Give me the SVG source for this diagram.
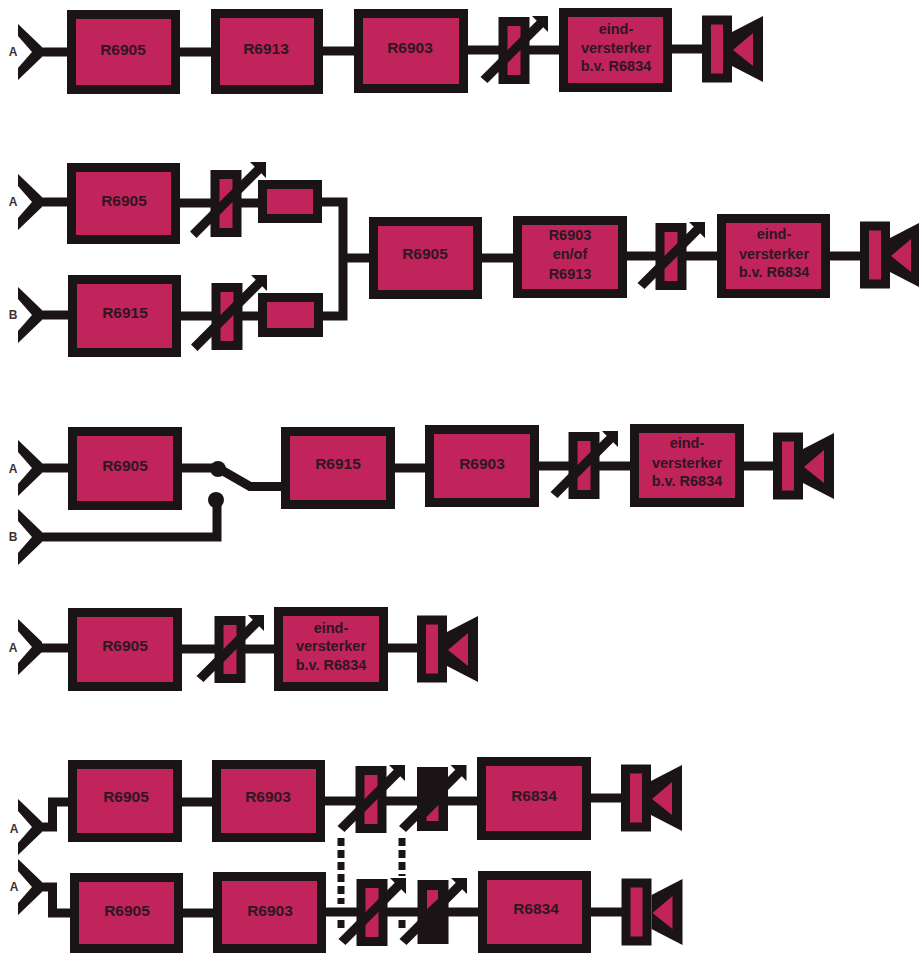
<svg xmlns="http://www.w3.org/2000/svg" width="919" height="953" viewBox="0 0 919 953">
<style>
.box{fill:#c0245a;stroke:#1b1417;stroke-width:9}
.k{fill:#1b1417}
.p{fill:#c0245a}
.w{stroke:#1b1417;stroke-width:9;fill:none}
text{font-family:"Liberation Sans",Arial,sans-serif;font-weight:700;text-anchor:middle;fill:#2e1722}
.t{font-size:15.5px}
.a{font-size:14.5px}
.l{font-size:12px;fill:#3a3034}
.d{stroke:#1b1417;stroke-width:7;fill:none;stroke-dasharray:8 4}
</style>
<defs>
<polygon id="ant" class="k" points="18,-28 42,-5 42,5 18,28 18,16 32,0 18,-16"/>
<polygon id="slash" class="k" points="-33.500,27 22.750,-29.250 18,-34 34,-34 34,-18 29.250,-22.750 -26.500,33"/>
<polygon id="slashlong" class="k" points="-36,28.500 28.750,-36.250 24,-41 40,-41 40,-25 35.250,-29.750 -29.500,35"/>
<rect id="potbody" class="box" x="-11" y="-28.500" width="22" height="58"/>
<rect id="potblack" class="k" x="-15.500" y="-32" width="31" height="64"/>
<g id="spk"><rect class="box" x="-10.500" y="-29" width="21" height="58"/><polygon class="k" points="15,-17 46,-33 46,33 15,17"/><polygon class="p" points="16,1 36,-16 36,17"/></g>
</defs>
<g id="connectors">
<path class="w" d="M40,52H70M178,52H215M320,51H358M465,50H562M669,49H705"/>
<path class="w" d="M40,202H70M178,203H262M40,315H70M178,316H262M318,202H343V316H319M345,258H373M480,258H516M624,256H720M828,256H864"/>
<path class="w" d="M40,468H70M180,468H218L250,486.500H285M40,537H217V500M392,468H428M536,466H634M741,466H777"/>
<path class="w" d="M40,648H71M180,649H277M385,648H421"/>
<path class="w" d="M40,827H52.500V802H71M40,887H52.500V913H73M180,802H215M322,801H480M588,798H625M180,913H216M323,912H481M588,912H626"/>
<path class="d" d="M341,838V904M341,920V929M402,838V876M402,920V929"/>
</g>
<g id="row1">
<g id="ant-a1"><use href="#ant" transform="translate(0,52)"/><text class="l" x="13" y="56">A</text></g>
<g id="n-r6905-1"><rect class="box" x="71.500" y="14.500" width="104" height="75"/><text class="t" x="123" y="55">R6905</text></g>
<g id="n-r6913-1"><rect class="box" x="215.500" y="13.500" width="103" height="76"/><text class="t" x="266" y="54">R6913</text></g>
<g id="n-r6903-1"><rect class="box" x="358.500" y="13.500" width="105" height="75"/><text class="t" x="410" y="53">R6903</text></g>
<g id="n-pot-1" transform="translate(514,50)"><use href="#potbody"/><use href="#slash"/></g>
<g id="n-amp-1"><rect class="box" x="563.500" y="12.500" width="104" height="75"/><text class="a" x="616" y="34">eind-</text><text class="a" x="616" y="53">versterker</text><text class="a" x="616" y="71">b.v. R6834</text></g>
<g id="n-spk-1" transform="translate(717,49)"><use href="#spk"/></g>
</g>
<g id="row2">
<g id="ant-a2"><use href="#ant" transform="translate(0,202)"/><text class="l" x="13" y="206">A</text></g>
<g id="ant-b2"><use href="#ant" transform="translate(0,315)"/><text class="l" x="13" y="319">B</text></g>
<g id="n-r6905-2"><rect class="box" x="71.500" y="167.500" width="104" height="72"/><text class="t" x="124" y="206">R6905</text></g>
<g id="n-r6915-2"><rect class="box" x="72.500" y="279.500" width="104" height="73"/><text class="t" x="125" y="318">R6915</text></g>
<g id="n-pot-2a" transform="translate(226,203)"><use href="#potbody"/><use href="#slashlong"/></g>
<g id="n-pot-2b" transform="translate(227,316)"><use href="#potbody"/><use href="#slashlong"/></g>
<g id="n-small-a"><rect class="box" x="262.500" y="184.500" width="55" height="34"/></g>
<g id="n-small-b"><rect class="box" x="262.500" y="297.500" width="56" height="35"/></g>
<g id="n-r6905-2m"><rect class="box" x="373.500" y="221.500" width="104" height="73"/><text class="t" x="425" y="259">R6905</text></g>
<g id="n-r6903-2"><rect class="box" x="517.500" y="220.500" width="105" height="73"/><text class="a" x="570" y="240">R6903</text><text class="a" x="570" y="259">en/of</text><text class="a" x="570" y="279">R6913</text></g>
<g id="n-pot-2c" transform="translate(671,256)"><use href="#potbody"/><use href="#slash"/></g>
<g id="n-amp-2"><rect class="box" x="721.500" y="218.500" width="104" height="75"/><text class="a" x="774" y="239">eind-</text><text class="a" x="774" y="259">versterker</text><text class="a" x="774" y="277">b.v. R6834</text></g>
<g id="n-spk-2" transform="translate(875,255)"><use href="#spk"/></g>
</g>
<g id="row3">
<g id="ant-a3"><use href="#ant" transform="translate(0,468)"/><text class="l" x="13" y="473">A</text></g>
<g id="ant-b3"><use href="#ant" transform="translate(0,537)"/><text class="l" x="13" y="541">B</text></g>
<g id="n-r6905-3"><rect class="box" x="72.500" y="431.500" width="105" height="74"/><text class="t" x="125" y="471">R6905</text></g>
<g id="n-switch"><circle class="k" cx="218" cy="469" r="8"/><circle class="k" cx="216" cy="500" r="8"/></g>
<g id="n-r6915-3"><rect class="box" x="285.500" y="431.500" width="105" height="73"/><text class="t" x="338" y="469">R6915</text></g>
<g id="n-r6903-3"><rect class="box" x="429.500" y="429.500" width="105" height="73"/><text class="t" x="482" y="469">R6903</text></g>
<g id="n-pot-3" transform="translate(584,465)"><use href="#potbody"/><use href="#slash"/></g>
<g id="n-amp-3"><rect class="box" x="634.500" y="428.500" width="105" height="74"/><text class="a" x="687" y="448">eind-</text><text class="a" x="687" y="468">versterker</text><text class="a" x="687" y="486">b.v. R6834</text></g>
<g id="n-spk-3" transform="translate(788,466)"><use href="#spk"/></g>
</g>
<g id="row4">
<g id="ant-a4"><use href="#ant" transform="translate(0,647)"/><text class="l" x="13" y="652">A</text></g>
<g id="n-r6905-4"><rect class="box" x="72.500" y="612.500" width="105" height="74"/><text class="t" x="125" y="651">R6905</text></g>
<g id="n-pot-4" transform="translate(230,649)"><use href="#potbody"/><use href="#slash"/></g>
<g id="n-amp-4"><rect class="box" x="278.500" y="611.500" width="105" height="75"/><text class="a" x="331" y="633">eind-</text><text class="a" x="331" y="651">versterker</text><text class="a" x="331" y="670">b.v. R6834</text></g>
<g id="n-spk-4" transform="translate(432,649)"><use href="#spk"/></g>
</g>
<g id="row5">
<g id="ant-a5"><use href="#ant" transform="translate(0,827)"/><text class="l" x="14" y="833">A</text></g>
<g id="ant-a6"><use href="#ant" transform="translate(0,887)"/><text class="l" x="14" y="891">A</text></g>
<g id="n-r6905-5"><rect class="box" x="72.500" y="764.500" width="105" height="73"/><text class="t" x="126" y="802">R6905</text></g>
<g id="n-r6903-5"><rect class="box" x="216.500" y="764.500" width="104" height="73"/><text class="t" x="268" y="802">R6903</text></g>
<g id="n-pot-5a" transform="translate(371,799)"><use href="#potbody"/><use href="#slash"/></g>
<g id="n-pot-5b" transform="translate(432.500,799)"><use href="#potblack"/><polygon class="p" points="-6,18 6,6 6,22 -6,22"/><use href="#slash"/></g>
<g id="n-r6834-5"><rect class="box" x="481.500" y="761.500" width="105" height="74"/><text class="t" x="534" y="801">R6834</text></g>
<g id="n-spk-5" transform="translate(636,798)"><use href="#spk"/></g>
<g id="n-r6905-6"><rect class="box" x="74.500" y="877.500" width="104" height="71"/><text class="t" x="127" y="916">R6905</text></g>
<g id="n-r6903-6"><rect class="box" x="217.500" y="876.500" width="104" height="72"/><text class="t" x="270" y="916">R6903</text></g>
<g id="n-pot-6a" transform="translate(372,912)"><use href="#potbody"/><use href="#slash"/></g>
<g id="n-pot-6b" transform="translate(433,912)"><use href="#potblack"/><polygon class="p" points="-6,-22 5,-22 5,-13 -6,-3"/><use href="#slash"/></g>
<g id="n-r6834-6"><rect class="box" x="482.500" y="875.500" width="104" height="73"/><text class="t" x="536" y="914">R6834</text></g>
<g id="n-spk-6" transform="translate(636.500,912)"><use href="#spk"/></g>
</g>
</svg>
